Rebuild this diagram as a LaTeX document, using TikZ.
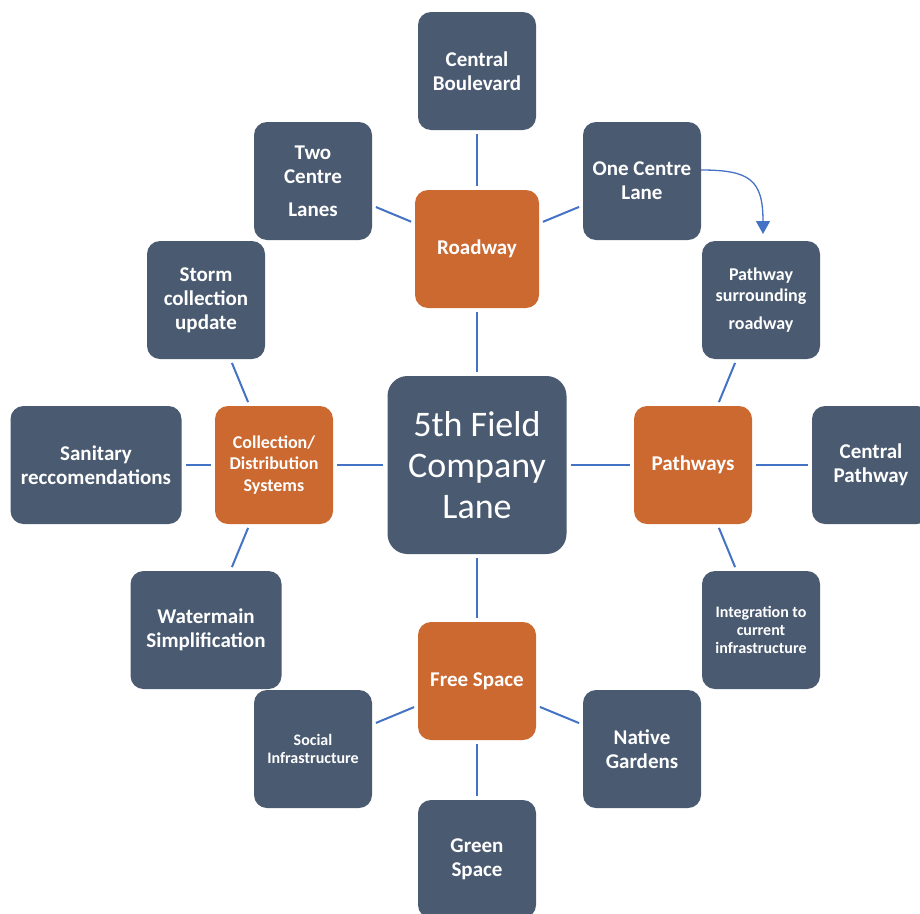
\documentclass[tikz,border=0pt]{standalone}
\usepackage{fontspec}
\setmainfont{Carlito}
\usetikzlibrary{arrows.meta}
\definecolor{boxdark}{HTML}{4A5A71}
\definecolor{boxorange}{HTML}{CB6930}
\definecolor{linkblue}{HTML}{4472C4}
\begin{document}
\begin{tikzpicture}[x=1pt,y=-1pt,
  leaf/.style={fill=boxdark, rounded corners=13pt, minimum width=118pt, minimum height=118pt,
    text=white, align=center, inner sep=2pt, font=\bfseries\fontsize{21}{24}\selectfont},
  hub/.style={leaf, fill=boxorange},
  core/.style={leaf, rounded corners=20pt, minimum width=179pt, minimum height=178pt,
    font=\fontsize{36}{41}\selectfont},
  small/.style={font=\bfseries\fontsize{18}{21.5}\selectfont},
  tiny/.style={font=\bfseries\fontsize{16}{18}\selectfont},
  conn/.style={draw=linkblue, line width=2pt, shorten >=4pt, shorten <=4pt},
  curvearrow/.style={draw=linkblue, line width=1.3pt, -{Triangle[length=13pt,width=14pt]}}
]
\useasboundingbox (0,0) rectangle (920,913);
\clip (0,0) rectangle (920,913);

% centre
\node[core] (core) at (477,465) {5th Field\\Company\\Lane};

% hubs
\node[hub, minimum width=124pt] (road) at (477,249) {Roadway};
\node[hub, small] (coll) at (274,465) {Collection/\\Distribution\\Systems};
\node[hub] (path) at (693,465) {Pathways};
\node[hub] (free) at (477,681) {Free Space};

% roadway leaves
\node[leaf] (cb) at (477,71) {Central\\Boulevard};
\node[leaf] (tcl) at (313,181) {Two\\Centre\\[9pt]Lanes};
\node[leaf] (ocl) at (642,181) {One Centre\\Lane};

% collection leaves
\node[leaf] (storm) at (206,300) {Storm\\collection\\update};
\node[leaf, minimum width=171pt] (san) at (96,465) {Sanitary\\reccomendations};
\node[leaf, minimum width=151pt] (water) at (206,630) {Watermain\\Simplification};

% pathway leaves
\node[leaf, small] (psr) at (761,300) {Pathway\\surrounding\\[6pt]roadway};
\node[leaf] (cp) at (871,465) {Central\\Pathway};
\node[leaf, tiny] (integ) at (761,630) {Integration to\\current\\infrastructure};

% free space leaves
\node[leaf, tiny] (social) at (313,749) {Social\\Infrastructure};
\node[leaf] (native) at (642,749) {Native\\Gardens};
\node[leaf] (green) at (477,859) {Green\\Space};

% connectors
\draw[conn] (core) -- (road);
\draw[conn] (core) -- (coll);
\draw[conn] (core) -- (path);
\draw[conn] (core) -- (free);

\draw[conn] (road) -- (cb);
\draw[conn] (road) -- (tcl);
\draw[conn] (road) -- (ocl);

\draw[conn] (coll) -- (storm);
\draw[conn] (coll) -- (san);
\draw[conn] (coll) -- (water);

\draw[conn] (path) -- (psr);
\draw[conn] (path) -- (cp);
\draw[conn] (path) -- (integ);

\draw[conn] (free) -- (social);
\draw[conn] (free) -- (native);
\draw[conn] (free) -- (green);

% curved arrow
\coordinate (arrowend) at (763,234);
\draw[curvearrow] ([yshift=11pt]ocl.east) .. controls (750,170) and (763,180) .. (arrowend);
\end{tikzpicture}
\end{document}
